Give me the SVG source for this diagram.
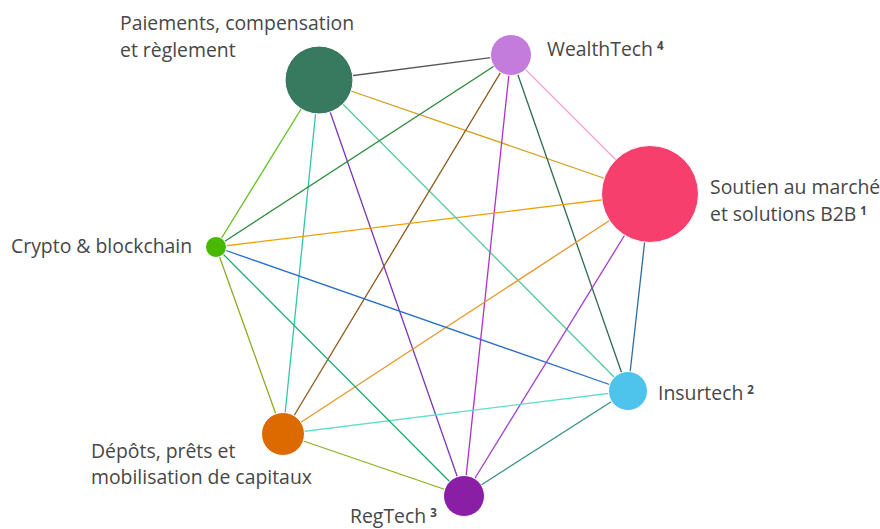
<svg xmlns="http://www.w3.org/2000/svg" width="880" height="529" viewBox="0 0 880 529">
<style>
.e{stroke-width:1.3;fill:none}
.n{stroke:#fff;stroke-width:1}
.t{font-family:"Open Sans","Noto Sans","Liberation Sans",sans-serif;font-size:19.4px;fill:#474747}
.s{font-size:11.5px;font-weight:bold}
</style>
<rect width="880" height="529" fill="#fff"/>
<g id="connectors">
<line class="e" x1="319" y1="80" x2="511" y2="55" stroke="#555555"/>
<line class="e" x1="319" y1="80" x2="650" y2="194" stroke="#d4a01e"/>
<line class="e" x1="319" y1="80" x2="628" y2="391" stroke="#55cc99"/>
<line class="e" x1="319" y1="80" x2="464" y2="496" stroke="#7b35b5"/>
<line class="e" x1="319" y1="80" x2="283" y2="434" stroke="#30c8a8"/>
<line class="e" x1="319" y1="80" x2="216" y2="247" stroke="#60c020"/>
<line class="e" x1="511" y1="55" x2="650" y2="194" stroke="#f0a0e0"/>
<line class="e" x1="511" y1="55" x2="628" y2="391" stroke="#2e6b50"/>
<line class="e" x1="511" y1="55" x2="464" y2="496" stroke="#b030c8"/>
<line class="e" x1="511" y1="55" x2="283" y2="434" stroke="#8b5a1a"/>
<line class="e" x1="511" y1="55" x2="216" y2="247" stroke="#2a8a3a"/>
<line class="e" x1="650" y1="194" x2="628" y2="391" stroke="#2a6ea0"/>
<line class="e" x1="650" y1="194" x2="464" y2="496" stroke="#a040d0"/>
<line class="e" x1="650" y1="194" x2="283" y2="434" stroke="#e8962a"/>
<line class="e" x1="650" y1="194" x2="216" y2="247" stroke="#f0a000"/>
<line class="e" x1="628" y1="391" x2="464" y2="496" stroke="#3a9085"/>
<line class="e" x1="628" y1="391" x2="283" y2="434" stroke="#66dcc8"/>
<line class="e" x1="628" y1="391" x2="216" y2="247" stroke="#2a70c8"/>
<line class="e" x1="464" y1="496" x2="283" y2="434" stroke="#88b020"/>
<line class="e" x1="464" y1="496" x2="216" y2="247" stroke="#18aa70"/>
<line class="e" x1="283" y1="434" x2="216" y2="247" stroke="#8aab20"/>
</g>
<g id="paiements">
<circle class="n" cx="319" cy="80" r="34" fill="#387a60"/>
<text class="t" x="120" y="30">Paiements, compensation<tspan x="120" y="56.5">et règlement</tspan></text>
</g>
<g id="wealthtech">
<circle class="n" cx="511" cy="55" r="20.5" fill="#c47cdc"/>
<text class="t" x="547" y="56">WealthTech<tspan class="s" dx="4" dy="-6">4</tspan></text>
</g>
<g id="soutien">
<circle class="n" cx="650" cy="194" r="48.5" fill="#f73f6d"/>
<text class="t" x="710" y="194">Soutien au marché<tspan x="710" y="220.5">et solutions B2B</tspan><tspan class="s" dx="4" dy="-6">1</tspan></text>
</g>
<g id="insurtech">
<circle class="n" cx="628" cy="391" r="19.5" fill="#4ec3ec"/>
<text class="t" x="658" y="400">Insurtech<tspan class="s" dx="4" dy="-6">2</tspan></text>
</g>
<g id="regtech">
<circle class="n" cx="464" cy="496" r="20.5" fill="#8a1fa6"/>
<text class="t" x="350" y="523">RegTech<tspan class="s" dx="4" dy="-6">3</tspan></text>
</g>
<g id="depots">
<circle class="n" cx="283" cy="434" r="21.5" fill="#dc6a00"/>
<text class="t" x="91" y="457.5">Dépôts, prêts et<tspan x="91" y="484">mobilisation de capitaux</tspan></text>
</g>
<g id="crypto">
<circle class="n" cx="216" cy="247" r="10.5" fill="#48b800"/>
<text class="t" x="11" y="253">Crypto &amp; blockchain</text>
</g>
</svg>
